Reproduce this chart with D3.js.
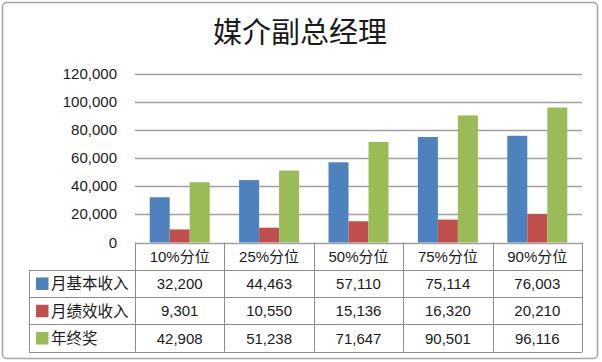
<!DOCTYPE html>
<html>
<head>
<meta charset="utf-8">
<script src="https://cdn.jsdelivr.net/npm/d3@7"></script>
<style>
  body { margin: 0; background: #fff; }
  text { font-family: "Liberation Sans", "Noto Sans CJK SC", sans-serif; fill: #1a1a1a; }
</style>
</head>
<body>
<div id="chart"></div>
<script>
const title = '媒介副总经理';
const categories = ['10%分位', '25%分位', '50%分位', '75%分位', '90%分位'];
const seriesNames = ['月基本收入', '月绩效收入', '年终奖'];
const baseIncome = [32200, 44463, 57110, 75114, 76003];
const perfIncome = [9301, 10550, 15136, 16320, 20210];
const yearBonus = [42908, 51238, 71647, 90501, 96116];
const yTicks = [0, 20000, 40000, 60000, 80000, 100000, 120000];

const colors = ['#4f81bd', '#c0504d', '#9bbb59'];
const seriesValues = [baseIncome, perfIncome, yearBonus];

const width = 602, height = 362;
const plotLeft = 135, plotRight = 582, plotTop = 74, plotBottom = 242.5;
const rowH = 27.3;
const legendLeft = 29;
const fmt = d3.format(',');

const svg = d3.select('#chart').append('svg')
  .attr('width', width)
  .attr('height', height);

// outer frame
svg.append('rect')
  .attr('x', 2.5).attr('y', 2.5)
  .attr('width', 595).attr('height', 356)
  .attr('rx', 4)
  .attr('fill', '#fff')
  .attr('stroke', '#a6a6a6')
  .attr('stroke-width', 1.5);

svg.append('text')
  .attr('x', 300).attr('y', 43)
  .attr('text-anchor', 'middle')
  .style('font-family', '"Noto Sans CJK SC", sans-serif')
  .style('font-size', '29px')
  .text(title);

const x0 = d3.scaleBand().domain(categories).range([plotLeft, plotRight]);
const x1 = d3.scaleBand().domain(seriesNames).range([0, x0.bandwidth()]).paddingOuter(0.735);
const y = d3.scaleLinear().domain([0, 120000]).range([plotBottom, plotTop]);

// gridlines
svg.append('g').selectAll('line')
  .data(yTicks)
  .enter().append('line')
  .attr('x1', plotLeft).attr('x2', plotRight)
  .attr('y1', d => Math.round(y(d)) + 0.5)
  .attr('y2', d => Math.round(y(d)) + 0.5)
  .attr('stroke', '#a0a0a0')
  .attr('stroke-width', 1.3);

// y labels
svg.append('g').selectAll('text')
  .data(yTicks)
  .enter().append('text')
  .attr('x', 117)
  .attr('y', d => y(d) + 5)
  .attr('text-anchor', 'end')
  .style('font-size', '15px')
  .text(d => fmt(d));

// bars
const groups = svg.append('g').selectAll('g')
  .data(categories)
  .enter().append('g')
  .attr('transform', d => 'translate(' + x0(d) + ',0)');

groups.selectAll('rect')
  .data((d, i) => seriesNames.map((s, j) => ({ s: s, j: j, v: seriesValues[j][i] })))
  .enter().append('rect')
  .attr('x', d => x1(d.s))
  .attr('width', x1.bandwidth())
  .attr('y', d => y(d.v))
  .attr('height', d => y(0) - y(d.v))
  .attr('fill', d => colors[d.j]);

// data table
const tbl = svg.append('g');
const tableBottom = plotBottom + rowH * 4;
const lineColor = '#8c8c8c';

// vertical lines
const colEdges = categories.map(c => x0(c)).concat([plotRight]);
tbl.selectAll('line.v')
  .data(colEdges)
  .enter().append('line')
  .attr('x1', d => Math.round(d) + 0.5).attr('x2', d => Math.round(d) + 0.5)
  .attr('y1', plotBottom).attr('y2', tableBottom)
  .attr('stroke', lineColor);
tbl.append('line')
  .attr('x1', legendLeft + 0.5).attr('x2', legendLeft + 0.5)
  .attr('y1', plotBottom + rowH).attr('y2', tableBottom)
  .attr('stroke', lineColor);

// horizontal lines
[1, 2, 3, 4].forEach(r => {
  tbl.append('line')
    .attr('x1', legendLeft).attr('x2', plotRight)
    .attr('y1', Math.round(plotBottom + r * rowH) + 0.5)
    .attr('y2', Math.round(plotBottom + r * rowH) + 0.5)
    .attr('stroke', lineColor);
});

// header
tbl.selectAll('text.h')
  .data(categories)
  .enter().append('text')
  .attr('x', d => x0(d) + x0.bandwidth() / 2)
  .attr('y', plotBottom + rowH / 2 + 5.5)
  .attr('text-anchor', 'middle')
  .style('font-size', '15px')
  .text(d => d);

// rows
seriesNames.forEach((s, j) => {
  const cy = plotBottom + rowH * (j + 1) + rowH / 2;
  tbl.append('rect')
    .attr('x', 36).attr('y', cy - 6)
    .attr('width', 12.5).attr('height', 12.5)
    .attr('fill', colors[j]);
  tbl.append('text')
    .attr('x', 51).attr('y', cy + 6)
    .style('font-size', '15.5px')
    .text(s);
  tbl.selectAll('text.r' + j)
    .data(seriesValues[j])
    .enter().append('text')
    .attr('x', (d, i) => x0(categories[i]) + x0.bandwidth() / 2)
    .attr('y', cy + 5.5)
    .attr('text-anchor', 'middle')
    .style('font-size', '15px')
    .text(d => fmt(d));
});
</script>
</body>
</html>
